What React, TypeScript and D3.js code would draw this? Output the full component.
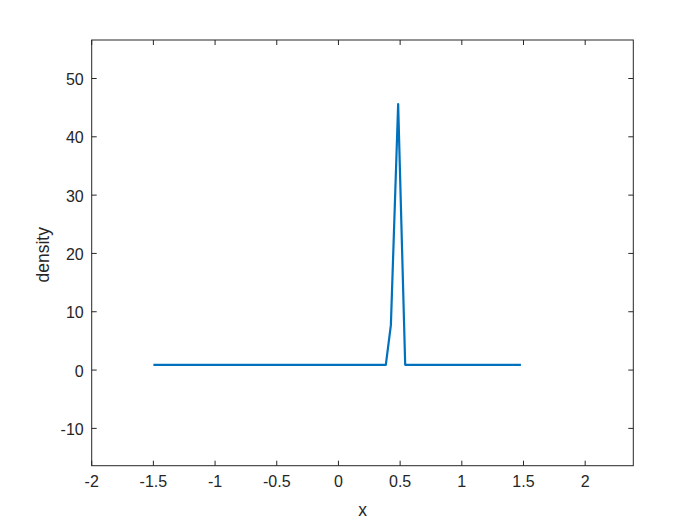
import React from "react";
import * as d3 from "d3";

// density estimate vertices
const xs = [-1.5, 0.384, 0.425, 0.484, 0.541, 1.479];
const density = [0.9, 0.9, 7.7, 45.6, 0.9, 0.9];

const xTicks = [-2, -1.5, -1, -0.5, 0, 0.5, 1, 1.5, 2];
const yTicks = [-10, 0, 10, 20, 30, 40, 50];

const W = 700;
const H = 525;
const left = 91.7;
const right = 633.3;
const top = 40;
const bottom = 465.7;
const axisColor = "#262626";
const font = "'Liberation Sans', Arial, sans-serif";

export default function App() {
  const x = d3.scaleLinear().domain([-2.0, 2.39]).range([left, right]);
  const y = d3.scaleLinear().domain([-16.4, 56.6]).range([bottom, top]);

  const pts = xs.map((v, i) => [v, density[i]] as [number, number]);
  const line = d3
    .line<[number, number]>()
    .x((d) => x(d[0]))
    .y((d) => y(d[1]));

  const tick = 5;

  return (
    <svg
      width={W}
      height={H}
      style={{ position: "absolute", left: 0, top: 0, background: "#fff" }}
      fontFamily={font}
    >
      <rect x={0} y={0} width={W} height={H} fill="#fff" />
      <path
        d={line(pts) || ""}
        fill="none"
        stroke="#0072BD"
        strokeWidth={2.2}
        strokeLinejoin="round"
      />
      <rect
        x={left}
        y={top}
        width={right - left}
        height={bottom - top}
        fill="none"
        stroke={axisColor}
        strokeWidth={1}
      />
      {xTicks.map((t) => (
        <g key={"x" + t}>
          <line x1={x(t)} x2={x(t)} y1={bottom} y2={bottom - tick} stroke={axisColor} />
          <line x1={x(t)} x2={x(t)} y1={top} y2={top + tick} stroke={axisColor} />
          <text
            x={x(t)}
            y={bottom + 21}
            textAnchor="middle"
            fontSize={16}
            fill={axisColor}
          >
            {t}
          </text>
        </g>
      ))}
      {yTicks.map((t) => (
        <g key={"y" + t}>
          <line x1={left} x2={left + tick} y1={y(t)} y2={y(t)} stroke={axisColor} />
          <line x1={right} x2={right - tick} y1={y(t)} y2={y(t)} stroke={axisColor} />
          <text
            x={left - 8}
            y={y(t) + 6.5}
            textAnchor="end"
            fontSize={16}
            fill={axisColor}
          >
            {t}
          </text>
        </g>
      ))}
      <text
        x={(left + right) / 2}
        y={bottom + 50}
        textAnchor="middle"
        fontSize={17.5}
        fill={axisColor}
      >
        x
      </text>
      <text
        transform={`translate(${49}, ${(top + bottom) / 2 + 2}) rotate(-90)`}
        textAnchor="middle"
        fontSize={17.5}
        fill={axisColor}
      >
        density
      </text>
    </svg>
  );
}
